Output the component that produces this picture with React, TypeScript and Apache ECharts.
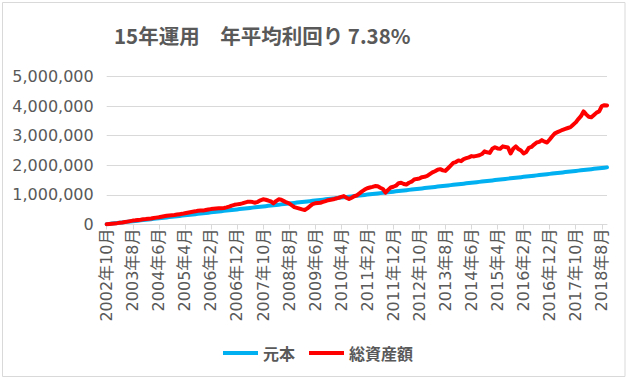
import React, { useEffect, useRef } from "react";
import * as echarts from "echarts";

const TITLE = "15年運用　年平均利回り 7.38%";
const SERIES_NAMES = ["元本", "総資産額"];
const START_YEAR = 2002;
const START_MONTH = 10;
const Y_TICKS = [0, 1000000, 2000000, 3000000, 4000000, 5000000];

// 元本 (円)
const principal = [
  10000, 20000, 30000, 40000, 50000, 60000, 70000, 80000, 90000, 100000,
  110000, 120000, 130000, 140000, 150000, 160000, 170000, 180000, 190000, 200000,
  210000, 220000, 230000, 240000, 250000, 260000, 270000, 280000, 290000, 300000,
  310000, 320000, 330000, 340000, 350000, 360000, 370000, 380000, 390000, 400000,
  410000, 420000, 430000, 440000, 450000, 460000, 470000, 480000, 490000, 500000,
  510000, 520000, 530000, 540000, 550000, 560000, 570000, 580000, 590000, 600000,
  610000, 620000, 630000, 640000, 650000, 660000, 670000, 680000, 690000, 700000,
  710000, 720000, 730000, 740000, 750000, 760000, 770000, 780000, 790000, 800000,
  810000, 820000, 830000, 840000, 850000, 860000, 870000, 880000, 890000, 900000,
  910000, 920000, 930000, 940000, 950000, 960000, 970000, 980000, 990000, 1000000,
  1010000, 1020000, 1030000, 1040000, 1050000, 1060000, 1070000, 1080000, 1090000, 1100000,
  1110000, 1120000, 1130000, 1140000, 1150000, 1160000, 1170000, 1180000, 1190000, 1200000,
  1210000, 1220000, 1230000, 1240000, 1250000, 1260000, 1270000, 1280000, 1290000, 1300000,
  1310000, 1320000, 1330000, 1340000, 1350000, 1360000, 1370000, 1380000, 1390000, 1400000,
  1410000, 1420000, 1430000, 1440000, 1450000, 1460000, 1470000, 1480000, 1490000, 1500000,
  1510000, 1520000, 1530000, 1540000, 1550000, 1560000, 1570000, 1580000, 1590000, 1600000,
  1610000, 1620000, 1630000, 1640000, 1650000, 1660000, 1670000, 1680000, 1690000, 1700000,
  1710000, 1720000, 1730000, 1740000, 1750000, 1760000, 1770000, 1780000, 1790000, 1800000,
  1810000, 1820000, 1830000, 1840000, 1850000, 1860000, 1870000, 1880000, 1890000, 1900000,
  1910000, 1920000, 1930000,
];

// 総資産額 (円)
const totalAssets = [
  10000, 19000, 29000, 37000, 46000, 57000, 69000, 83000, 98000, 115000,
  132000, 140000, 152000, 163000, 177000, 185000, 197000, 205000, 218000, 232000,
  245000, 262000, 278000, 295000, 303000, 312000, 320000, 335000, 348000, 360000,
  378000, 395000, 412000, 428000, 445000, 465000, 472000, 470000, 488000, 505000,
  520000, 530000, 540000, 548000, 552000, 558000, 578000, 605000, 640000, 665000,
  680000, 690000, 712000, 740000, 765000, 772000, 758000, 735000, 768000, 818000,
  850000, 835000, 810000, 780000, 715000, 790000, 850000, 835000, 790000, 745000,
  715000, 650000, 585000, 560000, 535000, 510000, 490000, 545000, 620000, 690000,
  715000, 725000, 735000, 765000, 790000, 820000, 835000, 850000, 880000, 900000,
  935000, 960000, 905000, 860000, 905000, 955000, 985000, 1050000, 1120000, 1180000,
  1225000, 1250000, 1270000, 1300000, 1290000, 1240000, 1200000, 1080000, 1170000, 1250000,
  1275000, 1310000, 1395000, 1410000, 1370000, 1350000, 1410000, 1445000, 1520000, 1540000,
  1555000, 1600000, 1610000, 1640000, 1700000, 1760000, 1800000, 1850000, 1870000, 1830000,
  1810000, 1900000, 1990000, 2080000, 2110000, 2165000, 2140000, 2210000, 2240000, 2270000,
  2310000, 2300000, 2320000, 2340000, 2380000, 2470000, 2440000, 2420000, 2560000, 2610000,
  2570000, 2560000, 2640000, 2620000, 2600000, 2400000, 2560000, 2640000, 2550000, 2500000,
  2400000, 2450000, 2590000, 2620000, 2700000, 2770000, 2790000, 2850000, 2800000, 2770000,
  2870000, 2980000, 3080000, 3120000, 3160000, 3200000, 3230000, 3260000, 3290000, 3370000,
  3450000, 3560000, 3660000, 3820000, 3720000, 3640000, 3620000, 3700000, 3780000, 3820000,
  4000000, 4030000, 4020000,
];

// 月次カテゴリ (2002年10月〜)
const categories = totalAssets.map((_, i) => {
  const m = START_MONTH - 1 + i;
  return `${START_YEAR + Math.floor(m / 12)}年${(m % 12) + 1}月`;
});

const LABEL_FONT = "'DejaVu Sans', 'Noto Sans CJK JP', sans-serif";
const CJK_FONT = "'Noto Sans CJK JP', 'DejaVu Sans', sans-serif";
const TEXT_COLOR = "#595959";
const GRID_COLOR = "#d9d9d9";

export default function App() {
  const ref = useRef<HTMLDivElement>(null);

  useEffect(() => {
    if (!ref.current) return;
    const chart = echarts.init(ref.current, undefined, { renderer: "svg" });
    chart.setOption({
      animation: false,
      backgroundColor: "#ffffff",
      title: {
        text: TITLE,
        left: 114,
        top: 23,
        padding: 0,
        textStyle: {
          fontFamily: CJK_FONT,
          fontSize: 20.5,
          fontWeight: "bold",
          color: TEXT_COLOR,
          lineHeight: 24,
        },
      },
      legend: {
        data: SERIES_NAMES,
        left: 223,
        top: 344,
        padding: 0,
        icon: "rect",
        itemWidth: 35,
        itemHeight: 4,
        itemGap: 14,
        textStyle: {
          fontFamily: CJK_FONT,
          fontSize: 16,
          fontWeight: "bold",
          color: TEXT_COLOR,
          lineHeight: 18,
        },
      },
      grid: {
        left: 106.7,
        right: 22,
        top: 76.5,
        bottom: 155.5,
        containLabel: false,
      },
      xAxis: {
        type: "category",
        data: categories,
        boundaryGap: false,
        axisLine: { lineStyle: { color: GRID_COLOR, width: 1 } },
        axisTick: {
          show: true,
          interval: 9,
          length: 5,
          lineStyle: { color: GRID_COLOR },
        },
        axisLabel: {
          interval: 9,
          rotate: 90,
          margin: 4,
          padding: [7, 0, 0, 0],
          color: TEXT_COLOR,
          fontFamily: LABEL_FONT,
          fontSize: 16,
        },
        splitLine: { show: false },
      },
      yAxis: {
        type: "value",
        min: Y_TICKS[0],
        max: Y_TICKS[Y_TICKS.length - 1],
        interval: Y_TICKS[1] - Y_TICKS[0],
        axisLine: { show: false },
        axisTick: { show: false },
        axisLabel: {
          margin: 13,
          color: TEXT_COLOR,
          fontFamily: LABEL_FONT,
          fontSize: 16,
          formatter: (v: number) => v.toLocaleString("en-US"),
        },
        splitLine: { lineStyle: { color: GRID_COLOR, width: 1 } },
      },
      graphic: [
        {
          type: "rect",
          shape: { x: 2.5, y: 2.5, width: 622.5, height: 374 },
          style: { fill: "none", stroke: GRID_COLOR, lineWidth: 1 },
          silent: true,
          z: -1,
        },
      ],
      series: [
        {
          name: SERIES_NAMES[0],
          type: "line",
          data: principal,
          showSymbol: false,
          symbol: "none",
          color: "#00b0f0",
          lineStyle: { width: 4, color: "#00b0f0", cap: "round", join: "round" },
        },
        {
          name: SERIES_NAMES[1],
          type: "line",
          data: totalAssets,
          showSymbol: false,
          symbol: "none",
          color: "#ff0000",
          lineStyle: { width: 4, color: "#ff0000", cap: "round", join: "round" },
        },
      ],
    });
    return () => chart.dispose();
  }, []);

  return (
    <div
      ref={ref}
      style={{ position: "absolute", left: 0, top: 0, width: 629, height: 380 }}
    />
  );
}
